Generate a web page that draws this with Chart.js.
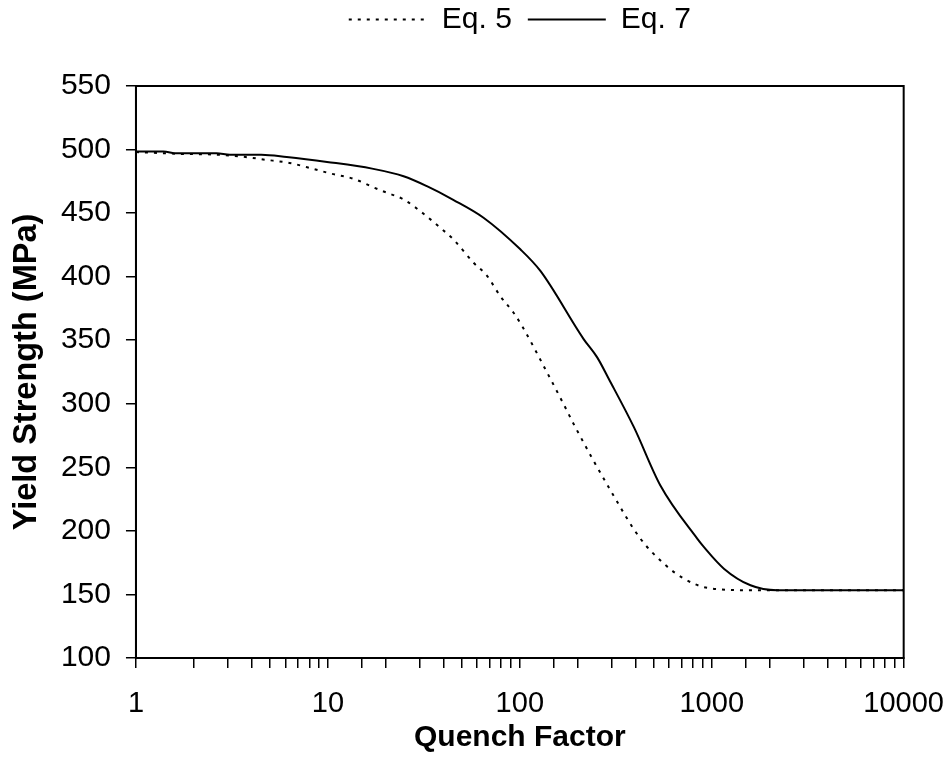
<!DOCTYPE html>
<html>
<head>
<meta charset="utf-8">
<script src="https://cdn.jsdelivr.net/npm/chart.js@4/dist/chart.umd.min.js"></script>
<style>
  html, body { margin: 0; padding: 0; background: #fff; }
  #wrap { width: 947px; height: 769px; position: relative; }
</style>
</head>
<body>
<div id="wrap"><canvas id="grafica"></canvas></div>
<script>
// Eq. 5 (dotted) - quench factor vs yield strength
const eq5X = [1, 1.7, 2.6, 3.8, 4.6, 6.3, 8.4, 10.3, 13.6, 17.2, 20.3, 24.8, 31.5, 38.5, 45, 57.4, 67.5, 79, 92.6, 102.6, 138.6, 169, 194.6, 297, 425, 562, 715, 946, 1590, 10000];
const eq5Y = [498, 496.6, 496, 494, 492.2, 489.5, 484.8, 481.2, 477, 470.4, 466, 460.8, 449.5, 438.5, 429.4, 411, 400.6, 384.8, 371.8, 361.3, 324.7, 299.8, 281.6, 231.8, 193.9, 174.3, 162.5, 155.2, 153.3, 153.3];

// Eq. 7 (solid)
const eq7X = [1, 1.39, 1.63, 2.63, 3.09, 4.5, 6.1, 9.9, 17, 24.8, 32.8, 45, 64.7, 100.6, 128, 215, 253, 291, 393, 540, 840, 909, 1157, 1592, 2193, 10000];
const eq7Y = [498.5, 498.5, 497, 497, 496, 496, 494.2, 490.3, 485, 479, 471.2, 460.5, 446.4, 421.5, 404.5, 350.9, 336.5, 319.5, 281.6, 235.7, 193.9, 187.4, 170.3, 157.2, 153.3, 153.3];

const xMin = 1, xMax = 10000;
const yMin = 100, yMax = 550, yStep = 50;

const FONT = 'Arial, "Liberation Sans", sans-serif';

function puntos(xs, ys) {
    return xs.map((x, i) => ({ x: x, y: ys[i] }));
}

// marco alrededor del área de la gráfica
const marco = {
    id: 'marco',
    afterDatasetsDraw(chart) {
        const a = chart.chartArea;
        const ctx = chart.ctx;
        ctx.save();
        ctx.strokeStyle = '#000';
        ctx.lineWidth = 2;
        ctx.strokeRect(a.left, a.top, a.right - a.left, a.bottom - a.top);
        ctx.restore();
    }
};

const ctx = document.getElementById('grafica').getContext('2d');
new Chart(ctx, {
    type: 'line',
    data: {
        datasets: [{
            label: 'Eq. 5',
            data: puntos(eq5X, eq5Y),
            borderColor: '#000',
            backgroundColor: '#000',
            borderWidth: 2,
            borderDash: [3, 6],
            pointRadius: 0,
            cubicInterpolationMode: 'monotone',
            fill: false
        }, {
            label: 'Eq. 7',
            data: puntos(eq7X, eq7Y),
            borderColor: '#000',
            backgroundColor: '#000',
            borderWidth: 2,
            pointRadius: 0,
            cubicInterpolationMode: 'monotone',
            fill: false
        }]
    },
    options: {
        responsive: true,
        maintainAspectRatio: false,
        animation: false,
        layout: { padding: { left: 0, right: 0, top: -11.5, bottom: 16 } },
        plugins: {
            tooltip: { enabled: false },
            legend: {
                position: 'top',
                fullSize: false,
                labels: {
                    color: '#000',
                    font: { family: FONT, size: 30 },
                    boxWidth: 78,   // 78 para que el trazo de ida y vuelta coincida con el guion
                    boxHeight: 0,
                    padding: 16
                }
            },
            // espacio vacío entre la leyenda y la gráfica
            subtitle: {
                display: true,
                text: ' ',
                weight: 500,
                font: { size: 10, lineHeight: 1.2 },
                padding: { top: 29.5, bottom: 0 }
            }
        },
        scales: {
            x: {
                type: 'logarithmic',
                min: xMin,
                max: xMax,
                title: {
                    display: true,
                    text: 'Quench Factor',
                    color: '#000',
                    font: { family: FONT, size: 30, weight: 'bold', lineHeight: '30px' },
                    padding: { top: -17, bottom: 0 }
                },
                ticks: {
                    autoSkip: false,
                    maxRotation: 0,
                    color: '#000',
                    padding: 3,
                    font: { family: FONT, size: 29, lineHeight: '66px' },
                    callback: (v) => {
                        const l = Math.log10(v);
                        return Math.abs(l - Math.round(l)) < 1e-9 ? String(v) : '';
                    }
                },
                grid: { drawOnChartArea: false, tickLength: 10, color: '#000', lineWidth: 1.5 },
                border: { color: '#000', width: 2 }
            },
            y: {
                min: yMin,
                max: yMax,
                title: {
                    display: true,
                    text: 'Yield Strength (MPa)',
                    color: '#000',
                    font: { family: FONT, size: 32.5, weight: 'bold' },
                    padding: { top: 8, bottom: -1.1 }
                },
                ticks: {
                    stepSize: yStep,
                    autoSkip: false,
                    color: '#000',
                    padding: 15,
                    font: { family: FONT, size: 30 }
                },
                grid: { drawOnChartArea: false, tickLength: 10, color: '#000', lineWidth: 1.5 },
                border: { color: '#000', width: 2 }
            }
        }
    },
    plugins: [marco]
});
</script>
</body>
</html>
